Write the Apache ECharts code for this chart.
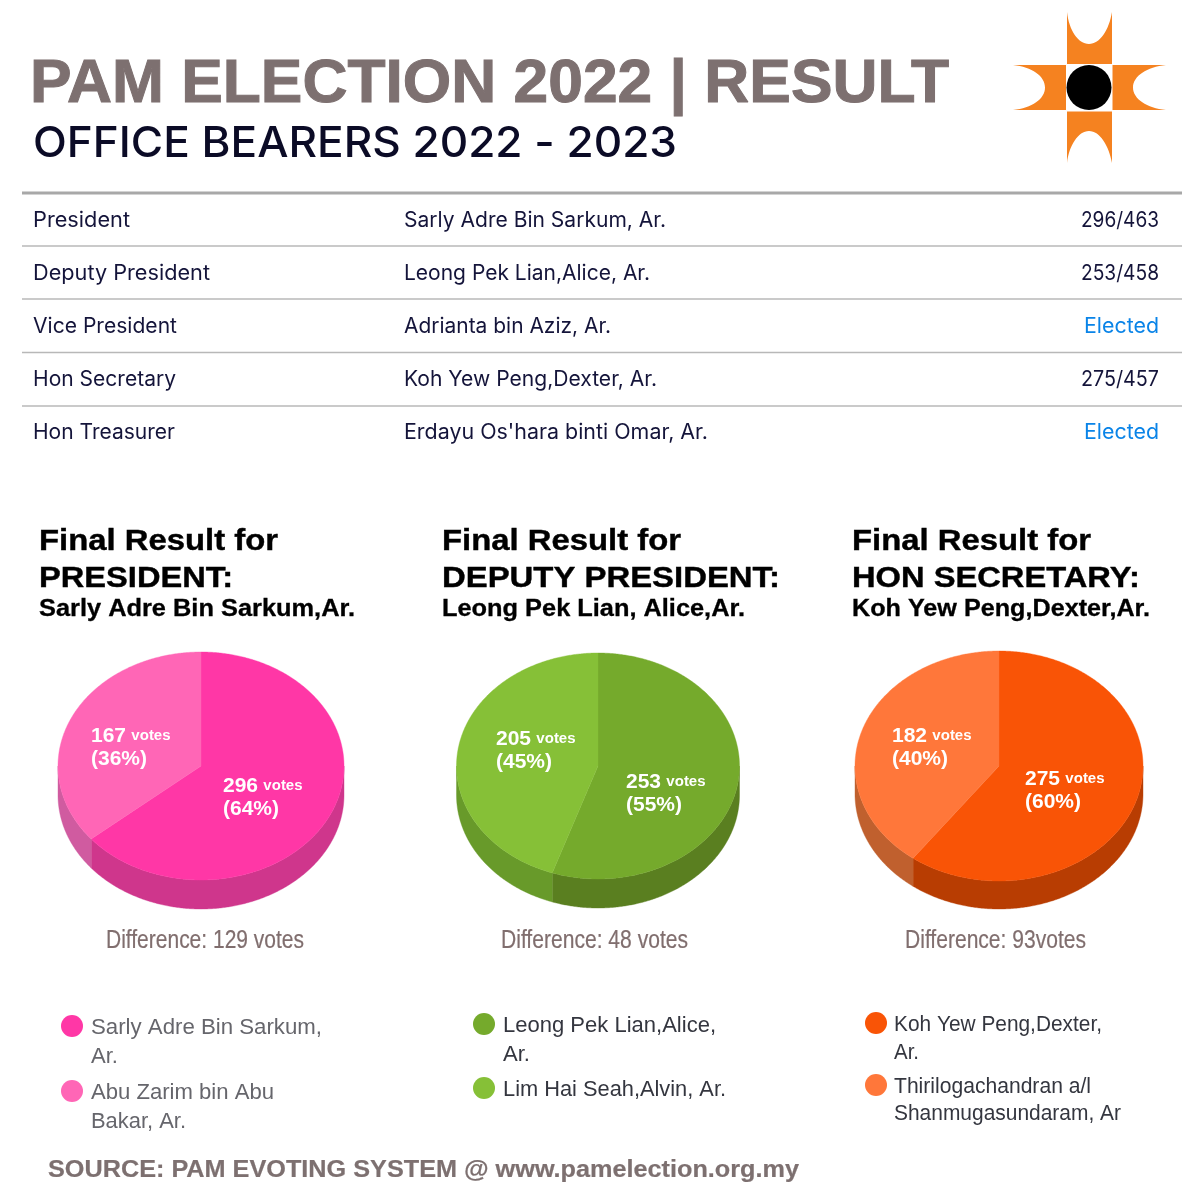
<!DOCTYPE html>
<html><head><meta charset="utf-8">
<style>html,body{margin:0;padding:0;background:#fff}#c{width:1200px;height:1200px}</style>
<script src="https://cdn.jsdelivr.net/npm/echarts@6/dist/echarts.min.js"></script>
</head><body><div id="c"></div>
<script>
// ---------- data ----------
const offices = ['President','Deputy President','Vice President','Hon Secretary','Hon Treasurer'];
const holders = ['Sarly Adre Bin Sarkum, Ar.','Leong Pek Lian,Alice, Ar.','Adrianta bin Aziz, Ar.','Koh Yew Peng,Dexter, Ar.',"Erdayu Os'hara binti Omar, Ar."];
const results = ['296/463','253/458','Elected','275/457','Elected'];

const presidentVotes = [296,167];
const deputyVotes = [253,205];
const secretaryVotes = [275,182];
const pieHeads = [
  ['Final Result for','PRESIDENT:','Sarly Adre Bin Sarkum,Ar.'],
  ['Final Result for','DEPUTY PRESIDENT:','Leong Pek Lian, Alice,Ar.'],
  ['Final Result for','HON SECRETARY:','Koh Yew Peng,Dexter,Ar.']
];
const differences = ['Difference: 129 votes','Difference: 48 votes','Difference: 93votes'];
const legendNames = [
  [['Sarly Adre Bin Sarkum,','Ar.'],['Abu Zarim bin Abu','Bakar, Ar.']],
  [['Leong Pek Lian,Alice,','Ar.'],['Lim Hai Seah,Alvin, Ar.']],
  [['Koh Yew Peng,Dexter,','Ar.'],['Thirilogachandran a/l','Shanmugasundaram, Ar']]
];
const sourceLine = 'SOURCE: PAM EVOTING SYSTEM @ www.pamelection.org.my';

// ---------- styling / layout ----------
const topColors  = [['#ff37a6','#ff66b6'],['#75aa2c','#86c037'],['#f95406','#ff773a']];
const wallColors = [['#cf368c','#d05ba0'],['#5a7f20','#689a2a'],['#b83d02','#c0602e']];
const pieGeom = [{cx:201,cy:766,rx:143,ry:114,d:29},{cx:598,cy:766,rx:141.5,ry:113,d:29},{cx:999,cy:766,rx:144,ry:115,d:28}];
const labelPos = [[[223,786],[91,736]],[[626,782],[496,739]],[[1025,779],[892,736]]];
const allVotes = [presidentVotes,deputyVotes,secretaryVotes];
const SANS='"Liberation Sans",Arial,sans-serif';
const INTER='Inter,sans-serif';

const mctx=document.createElement('canvas').getContext('2d');
function fit(text,font,w){mctx.font=font;return w/mctx.measureText(text).width;}
function T(text,x,y,font,fill,w,extra){
  return {type:'text',x:x,y:y+2,scaleX:w?fit(text,font,w):1,z:10,
    style:Object.assign({text:text,x:0,y:0,font:font,fill:fill,textVerticalAlign:'middle',textAlign:'left'},extra||{})};
}

const graphics=[];
// header
graphics.push(T('PAM ELECTION 2022 | RESULT',30,83,'bold 61px '+SANS,'#7d7070',919,{stroke:'#7d7070',lineWidth:1,lineJoin:'round'}));
graphics.push(T('OFFICE BEARERS 2022 - 2023',33,142,'500 43px '+INTER,'#0b0b26',644));
// logo
const ORANGE='#f58220';
const logoPaths=['M1067 64L1067 12C1069 30 1078 44 1089 44C1100 44 1109 30 1112 12L1112 64Z',
 'M1067 111.5L1067 163C1069 146 1078 131 1089 131C1100 131 1109 146 1112 163L1112 111.5Z',
 'M1066 65L1013 65C1032 67 1045 76 1045 87.5C1045 99 1032 108 1013 110L1066 110Z',
 'M1112.5 65L1166 65C1147 67 1133 76 1133 87.5C1133 99 1147 108 1166 110L1112.5 110Z'];
graphics.push({type:'circle',shape:{cx:1089,cy:87.5,r:22.5},style:{fill:'#000'}});
// table
graphics.push({type:'line',shape:{x1:22,y1:193,x2:1182,y2:193},style:{stroke:'#a8a8a8',lineWidth:3}});
const rowY=[219,272,325,378,431], lineY=[246,299,352.5,406];
const holderW=[262,246,207,253,304], officeW=[97,177,144,143,142];
lineY.forEach(y=>graphics.push({type:'line',shape:{x1:22,y1:y,x2:1182,y2:y},style:{stroke:'#b8b8b8',lineWidth:1.4}}));
offices.forEach((o,i)=>{
  graphics.push(T(o,33,rowY[i],'21px '+INTER,'#14143a',officeW[i]));
  graphics.push(T(holders[i],404,rowY[i],'21px '+INTER,'#14143a',holderW[i]));
  const el=results[i]==='Elected';
  graphics.push(T(results[i],1159,rowY[i],'21px '+INTER,el?'#0a84e8':'#14143a',el?75:78,{textAlign:'right'}));
});
// pie headings, differences, legends
const headX=[39,442,852];
const headW=[[239,194,316],[239,338,303],[239,288,298]];
const diffX=[106,501,905], diffW=[198,187,181];
const legDotX=[72,484,876], legTextX=[91,503,894];
const legY=[[[1026,1055],[1091,1120]],[[1024,1053],[1088]],[[1023,1051],[1085,1112]]];
const legW=[[[231,27],[183,95]],[[213,27],[223]],[[208,25],[197,227]]];
const legText=['#66666c','#34363f','#34363f'];
pieHeads.forEach((h,i)=>{
  const st={stroke:'#000',lineWidth:.4,lineJoin:'round'};
  graphics.push(T(h[0],headX[i],540,'bold 29px '+SANS,'#000',headW[i][0],st));
  graphics.push(T(h[1],headX[i],577,'bold 29px '+SANS,'#000',headW[i][1],st));
  graphics.push(T(h[2],headX[i],608,'bold 23px '+SANS,'#000',headW[i][2],{stroke:'#000',lineWidth:.3,lineJoin:'round'}));
  graphics.push(T(differences[i],diffX[i],939,'25px "Liberation Sans Narrow",'+SANS,'#806e6e',diffW[i],{stroke:'#806e6e',lineWidth:.2}));
  legendNames[i].forEach((lines,j)=>{
    graphics.push({type:'circle',shape:{cx:legDotX[i],cy:legY[i][j][0],r:11},style:{fill:topColors[i][j]}});
    lines.forEach((ln,k)=>graphics.push(T(ln,legTextX[i],legY[i][j][k],'22px '+SANS,legText[i],legW[i][j][k])));
  });
});
graphics.push(T(sourceLine,48,1168,'bold 24px '+SANS,'#7d7070',751,{stroke:'#7d7070',lineWidth:.2,lineJoin:'round'}));

// ---------- pies: tilted 3D look, slices computed from the vote values ----------
function makeRender(p){
  const g=pieGeom[p], votes=allVotes[p], total=votes.reduce((a,b)=>a+b,0);
  return function(params,api){
    const idx=params.dataIndex, val=api.value(0);
    let before=0; for(let i=0;i<idx;i++) before+=votes[i];
    const a0=before/total*360, a1=(before+val)/total*360;
    const pt=(deg,dy)=>{const t=deg*Math.PI/180;return [g.cx+g.rx*Math.sin(t),g.cy-g.ry*Math.cos(t)+(dy||0)];};
    const top=[[g.cx,g.cy]];
    for(let d=a0;d<a1;d+=0.5) top.push(pt(d)); top.push(pt(a1));
    const children=[];
    const s=Math.max(a0,90), e=Math.min(a1,270);
    if(e>s){
      const front=[],back=[];
      for(let d=s;d<e;d+=0.5){front.push(pt(d));back.push(pt(d,g.d));}
      front.push(pt(e));back.push(pt(e,g.d));
      children.push({type:'polygon',shape:{points:front.concat(back.reverse())},
        style:{fill:wallColors[p][idx],stroke:wallColors[p][idx],lineWidth:.4}});
    }
    children.push({type:'polygon',shape:{points:top},style:{fill:topColors[p][idx],stroke:topColors[p][idx],lineWidth:.4}});
    const lp=labelPos[p][idx];
    children.push({type:'text',style:{x:lp[0],y:lp[1],text:'{a|'+val+'} {b|votes}',textVerticalAlign:'middle',textAlign:'left',
      fill:'#fff',rich:{a:{font:'bold 21px '+SANS,fill:'#fff'},b:{font:'bold 15px '+SANS,fill:'#fff',padding:[0,0,0,2]}}}});
    children.push({type:'text',style:{x:lp[0],y:lp[1]+23,text:'('+Math.round(val/total*100)+'%)',textVerticalAlign:'middle',textAlign:'left',
      fill:'#fff',font:'bold 21px '+SANS}});
    return {type:'group',children:children};
  };
}

const chart=echarts.init(document.getElementById('c'),null,{renderer:'canvas'});
chart.setOption({
  animation:false,
  backgroundColor:'#fff',
  series:allVotes.map((v,p)=>({
    type:'custom',name:pieHeads[p][1],coordinateSystem:'none',silent:true,
    renderItem:makeRender(p),data:v.map(x=>[x])
  })).concat([{
    type:'custom',name:'logo',coordinateSystem:'none',silent:true,data:logoPaths.map((_,i)=>[i]),
    renderItem:(params)=>({type:'path',shape:{pathData:logoPaths[params.dataIndex]},style:{fill:ORANGE}})
  }]),
  graphic:{elements:graphics}
});
</script></body></html>
